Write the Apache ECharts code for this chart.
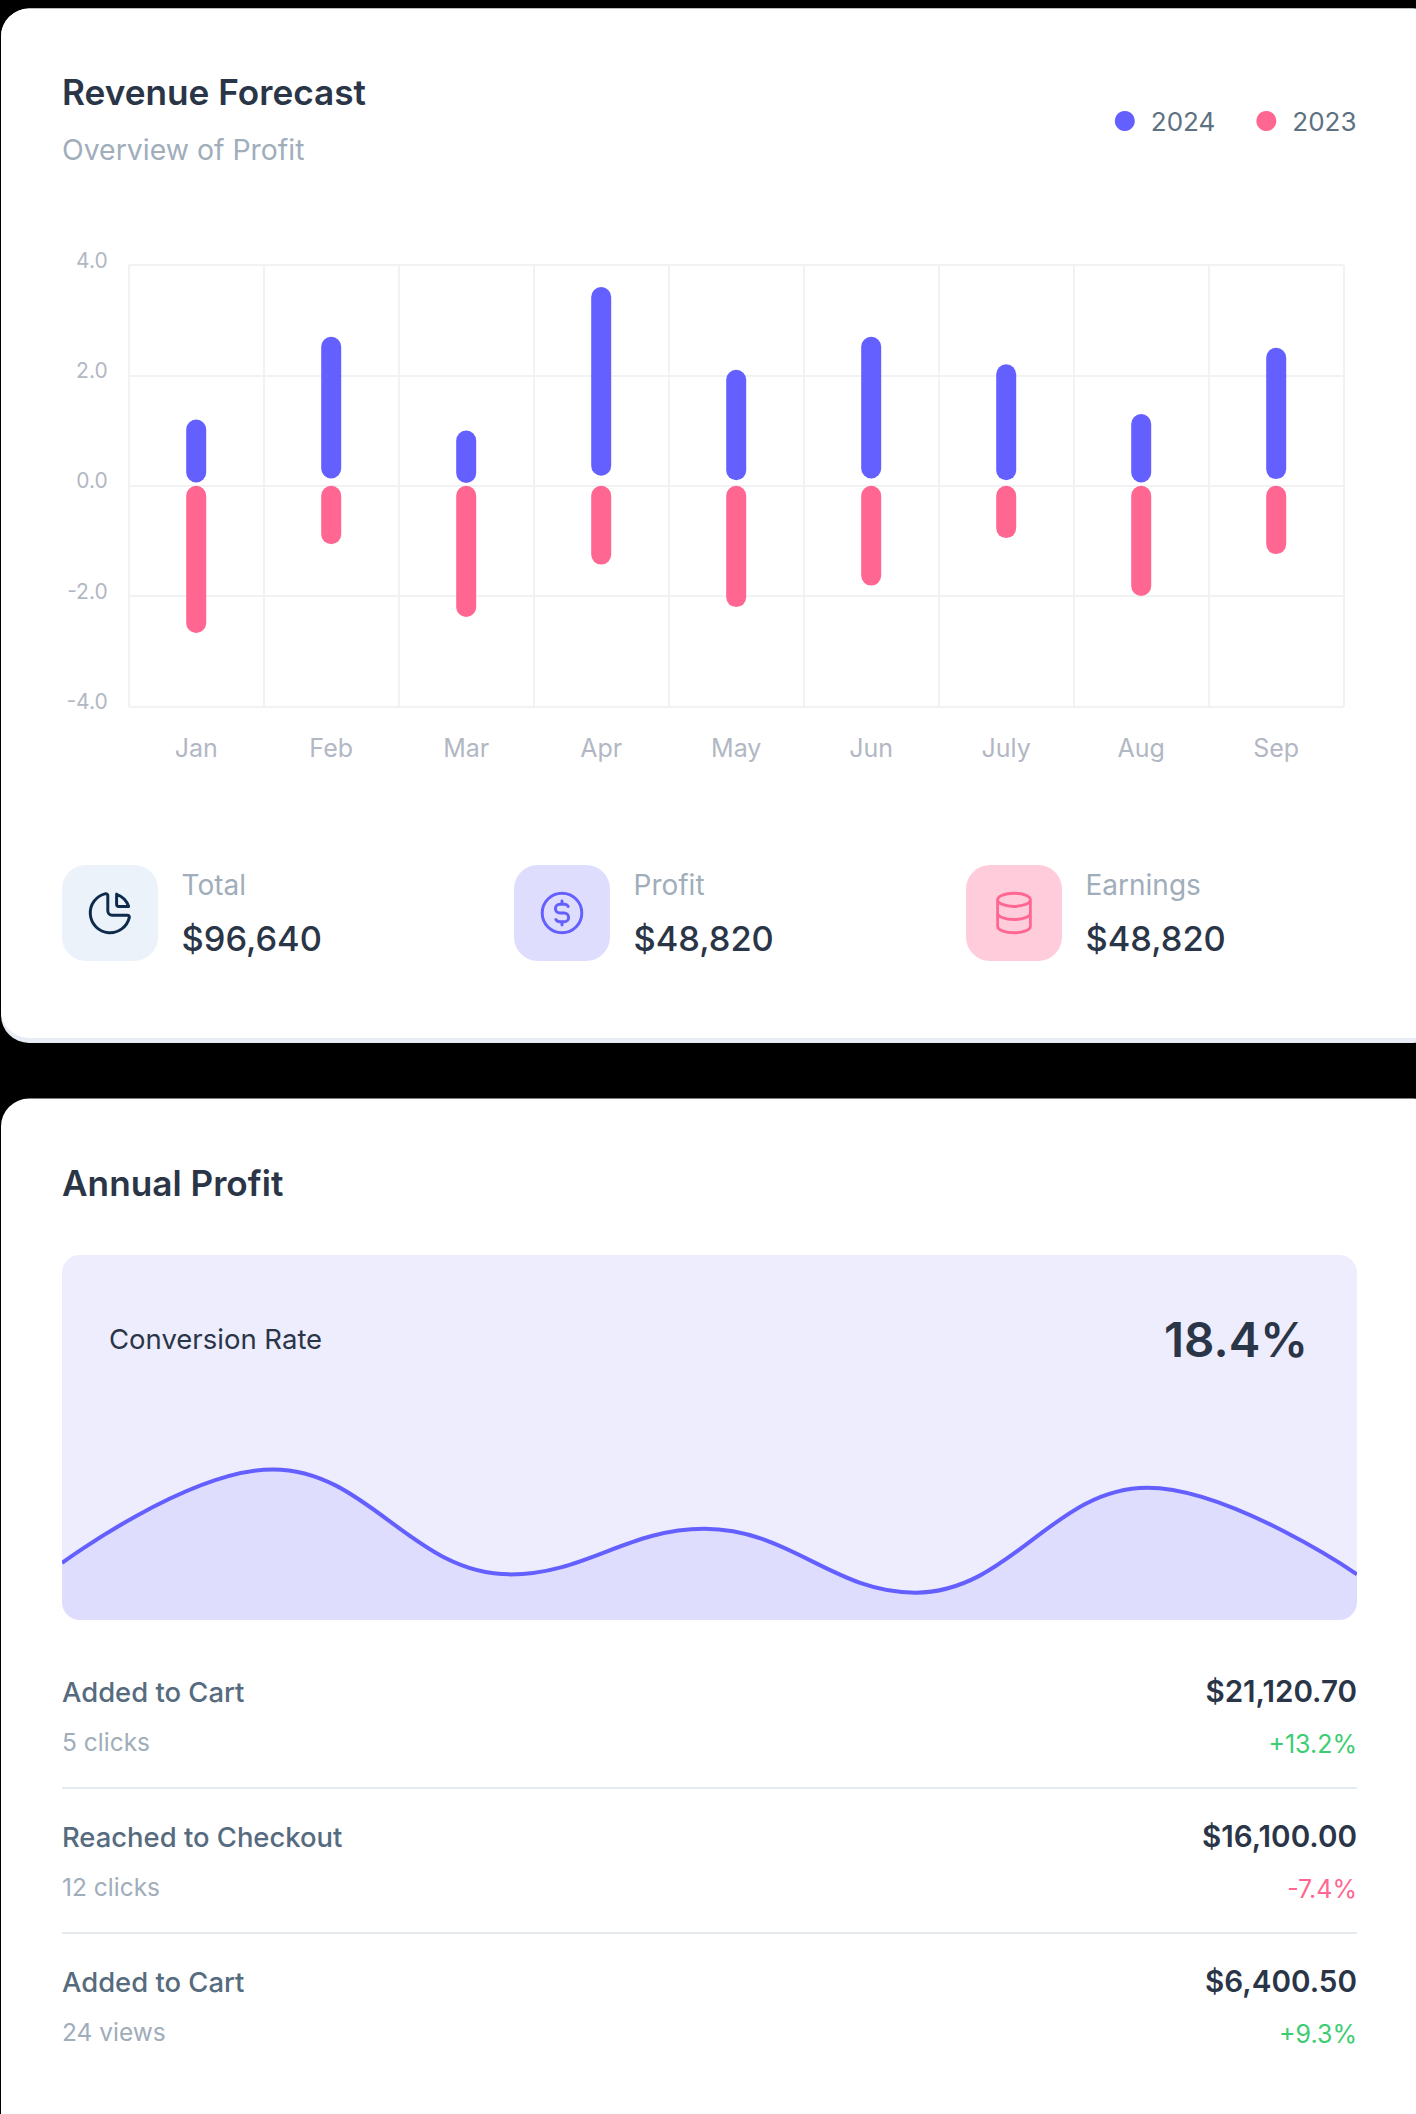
<!DOCTYPE html>
<html>
<head>
<meta charset="utf-8">
<style>
html, body { margin: 0; padding: 0; background: #000; }
#chart-container { width: 1416px; height: 2114px; }
</style>
<script src="https://cdn.jsdelivr.net/npm/echarts@6/dist/echarts.min.js"></script>
</head>
<body>
<div id="chart-container"></div>
<script>
// revenue bars, values
const months = ['Jan', 'Feb', 'Mar', 'Apr', 'May', 'Jun', 'July', 'Aug', 'Sep'];
const top2024 = [1.2, 2.7, 1.0, 3.6, 2.1, 2.7, 2.2, 1.3, 2.5];
const gap2024 = [0.06, 0.13, 0.05, 0.18, 0.1, 0.13, 0.1, 0.06, 0.12];
const values2023 = [-2.67, -1.06, -2.38, -1.43, -2.2, -1.81, -0.95, -2.0, -1.24];
const yTicks = [-4, -2, 0, 2, 4];

// conversion rate curve: ends, peaks and troughs, x in percent of the width
const conversionX = [0, 16.3, 34.6, 49.6, 65.9, 83.8, 100];
const conversion = [25, 66, 20, 40, 12, 58, 20];

// stat boxes
const statNames = ['Total', 'Profit', 'Earnings'];
const statValues = ['$96,640', '$48,820', '$48,820'];

// list under the curve
const rowNames = ['Added to Cart', 'Reached to Checkout', 'Added to Cart'];
const rowSubs = ['5 clicks', '12 clicks', '24 views'];
const rowAmounts = ['$21,120.70', '$16,100.00', '$6,400.50'];
const rowChanges = ['+13.2%', '-7.4%', '+9.3%'];

const FONT = 'Inter, "Noto Sans", sans-serif';
const BLUE = '#645fff';
const PINK = '#ff6691';
const DARK = '#2a3547';
const SOFT = '#a0adba';
const AXIS = '#b2b7c4';
const GRIDLINE = '#f1f2f4';

var dom = document.getElementById('chart-container');
var myChart = echarts.init(dom, null, { renderer: 'svg' });

// tabler style outline icons, 24 unit box
echarts.graphic.registerShape('pieIcon', echarts.graphic.extendPath(
    'M10 3.2a9 9 0 1 0 10.8 10.8a1 1 0 0 0 -1 -1h-6.8a2 2 0 0 1 -2 -2v-7a.9 .9 0 0 0 -1 -.8M15 3.5a9 9 0 0 1 5.5 5.5h-4.5a1 1 0 0 1 -1 -1v-4.5', {}));
echarts.graphic.registerShape('coinIcon', echarts.graphic.extendPath(
    'M3 12a9 9 0 1 0 18 0a9 9 0 0 0 -18 0M14.8 9a2 2 0 0 0 -1.8 -1h-2a2 2 0 1 0 0 4h2a2 2 0 1 1 0 4h-2a2 2 0 0 1 -1.8 -1M12 6.5v1.5M12 16v1.5', {}));
echarts.graphic.registerShape('dbIcon', echarts.graphic.extendPath(
    'M4 6a8 3 0 1 0 16 0a8 3 0 1 0 -16 0M4 6v6a8 3 0 0 0 16 0v-6M4 12v6a8 3 0 0 0 16 0v-6', {}));

function label(text, x, baseline, size, weight, color, align) {
    return {
        type: 'text',
        z: 10,
        style: {
            text: text,
            x: x,
            y: baseline - size * 0.36,
            fill: color,
            font: weight + ' ' + size + 'px ' + FONT,
            align: align || 'left',
            verticalAlign: 'middle'
        }
    };
}

function box(x, y, w, h, r, color, z) {
    return {
        type: 'rect',
        z: z,
        shape: { x: x, y: y, width: w, height: h, r: r },
        style: { fill: color }
    };
}

function icon(type, cx, cy, color, sx) {
    return {
        type: type,
        z: 10,
        x: cx - 12 * sx,
        y: cy - 12 * 2.2,
        scaleX: sx,
        scaleY: 2.2,
        style: { fill: 'none', stroke: color, lineWidth: 1.35, lineCap: 'round', lineJoin: 'round' }
    };
}

var elements = [
    // cards
    box(1, 8.5, 1440, 1034.5, 28, '#e9ecf5', -10),
    box(1, 8.5, 1440, 1029.5, 28, '#ffffff', -9),
    box(1, 1098.5, 1440, 1060, 28, '#ffffff', -9),
    // panel behind the curve
    box(62, 1255, 1295, 365, 0, '#eeedfd', -8),
    {
        // white ring keeps the area fill inside the rounded panel
        type: 'rect',
        z: 5,
        shape: { x: 52, y: 1245, width: 1315, height: 385, r: 28 },
        style: { fill: 'none', stroke: '#ffffff', lineWidth: 20 }
    },
    label('Revenue Forecast', 62, 105, 35.2, 600, DARK),
    label('Overview of Profit', 62, 160, 28.4, 400, SOFT),
    label('Annual Profit', 62, 1196, 35.2, 600, DARK),
    label('Conversion Rate', 109, 1349, 27.5, 400, DARK),
    label('18.4%', 1308, 1356.5, 47.5, 600, DARK, 'right')
];

// stat boxes
var statX = [62, 514, 966];
var statFill = ['#ecf2fa', '#dfddfd', '#ffccdb'];
var statIcon = ['pieIcon', 'coinIcon', 'dbIcon'];
var statStroke = ['#0e2b4b', BLUE, PINK];
var statScale = [2.2, 2.2, 2.05];
statNames.forEach(function (name, i) {
    elements.push(box(statX[i], 865, 96, 96, 24, statFill[i], -8));
    elements.push(icon(statIcon[i], statX[i] + 48, 913, statStroke[i], statScale[i]));
    elements.push(label(name, statX[i] + 119.5, 895, 28, 400, SOFT));
    elements.push(label(statValues[i], statX[i] + 119.5, 951, 34.4, 500, DARK));
});

// list rows
rowNames.forEach(function (name, i) {
    var dy = i * 145;
    elements.push(label(name, 62, 1702 + dy, 27.4, 500, '#566b7e'));
    elements.push(label(rowSubs[i], 62, 1751 + dy, 24.5, 400, SOFT));
    elements.push(label(rowAmounts[i], 1357, 1702 + dy, 29.6, 600, DARK, 'right'));
    elements.push(label(rowChanges[i], 1357, 1753 + dy, 25, 400, rowChanges[i][0] === '-' ? PINK : '#3ccd72', 'right'));
    if (i < 2) {
        elements.push(box(62, 1787 + dy, 1295, 2, 0, '#e5eaef', -8));
    }
});

var option = {
    backgroundColor: 'transparent',
    animation: false,
    legend: {
        data: ['2024', '2023'],
        icon: 'circle',
        right: 54.5,
        top: 103,
        itemWidth: 20,
        itemHeight: 20,
        itemGap: 41,
        textStyle: { fontFamily: FONT, fontSize: 26, color: '#5d7181', padding: [0, 0, 0, 11] }
    },
    grid: [
        { left: 128.7, top: 265, width: 1215, height: 441.4, show: true, borderColor: GRIDLINE, borderWidth: 1 },
        { left: 62, top: 1255, width: 1295, height: 365 }
    ],
    xAxis: [
        {
            type: 'category',
            gridIndex: 0,
            data: months,
            axisLine: { show: false },
            axisTick: { show: false },
            splitLine: { show: true, lineStyle: { color: GRIDLINE, width: 2 } },
            axisLabel: { color: AXIS, fontFamily: FONT, fontSize: 25, margin: 29 }
        },
        {
            type: 'value',
            gridIndex: 1,
            min: 0,
            max: 100,
            show: false
        }
    ],
    yAxis: [
        {
            type: 'value',
            gridIndex: 0,
            min: yTicks[0],
            max: yTicks[yTicks.length - 1],
            interval: 2,
            axisLine: { show: false },
            axisTick: { show: false },
            splitLine: { lineStyle: { color: GRIDLINE, width: 2 } },
            axisLabel: {
                color: AXIS,
                fontFamily: FONT,
                fontSize: 21,
                margin: 21,
                verticalAlign: 'bottom',
                lineHeight: 10,
                formatter: function (v) { return v.toFixed(1); }
            }
        },
        {
            type: 'value',
            gridIndex: 1,
            min: 0,
            max: 160,
            show: false
        }
    ],
    series: [
        {
            // lifts the 2024 bars a little off zero
            name: 'lift',
            type: 'bar',
            stack: 'year',
            barWidth: 20,
            silent: true,
            itemStyle: { color: 'transparent' },
            data: gap2024
        },
        {
            name: '2024',
            type: 'bar',
            stack: 'year',
            barWidth: 20,
            itemStyle: { color: BLUE, borderRadius: 10 },
            data: top2024.map(function (v, i) { return +(v - gap2024[i]).toFixed(2); })
        },
        {
            name: '2023',
            type: 'bar',
            stack: 'year',
            barWidth: 20,
            itemStyle: { color: PINK, borderRadius: 10 },
            data: values2023
        },
        {
            name: 'Conversion Rate',
            type: 'line',
            xAxisIndex: 1,
            yAxisIndex: 1,
            data: conversionX.map(function (x, i) { return [x, conversion[i]]; }),
            smooth: 0.4,
            showSymbol: false,
            lineStyle: { color: BLUE, width: 4 },
            areaStyle: { color: '#dfddfd', opacity: 1 }
        }
    ],
    graphic: { elements: elements }
};

myChart.setOption(option);
window.addEventListener('resize', myChart.resize);
</script>
</body>
</html>
